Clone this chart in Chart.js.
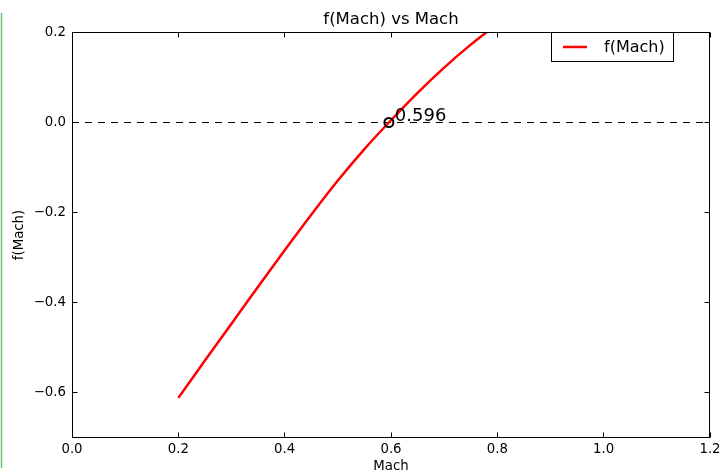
<!DOCTYPE html>
<html>
<head>
<meta charset="utf-8">
<script src="https://cdn.jsdelivr.net/npm/chart.js@4.4.1/dist/chart.umd.min.js"></script>
<style>
  html, body { margin: 0; padding: 0; background: #ffffff; }
  #wrap { width: 725px; height: 474px; position: relative; }
</style>
</head>
<body>
<div id="wrap"><canvas id="c" width="725" height="474"></canvas></div>
<script>
// Function samples f(Mach) over the Mach range
const mach  = [0.20, 0.25, 0.30, 0.35, 0.40, 0.45, 0.50, 0.55, 0.60, 0.65, 0.70, 0.75, 0.80];
const fMach = [-0.612, -0.529, -0.447, -0.365, -0.284, -0.205, -0.129, -0.059, 0.005, 0.066, 0.122, 0.173, 0.219];

// Root found by the solver
const rootMach = 0.596;
const rootF = 0.0;

// Axis ranges and tick labels
const xRange = [0.0, 1.2];
const yRange = [-0.7, 0.2];
const xTicks = [0.0, 0.2, 0.4, 0.6, 0.8, 1.0, 1.2];
const yTicks = [-0.6, -0.4, -0.2, 0.0, 0.2];

const FONT = "'DejaVu Sans', 'Liberation Sans', sans-serif";
const fmt = v => (v < 0 ? '\u2212' : '') + Math.abs(v).toFixed(1);

const curve = mach.map((m, i) => ({ x: m, y: fMach[i] }));

const decor = {
  id: 'decor',
  beforeDraw(chart) {
    const ctx = chart.ctx;
    ctx.save();
    ctx.fillStyle = '#ffffff';
    ctx.fillRect(0, 0, chart.width, chart.height);
    // thin green rule along the left edge
    ctx.strokeStyle = '#6cbf6c';
    ctx.lineWidth = 1.5;
    ctx.beginPath();
    ctx.moveTo(1.5, 13);
    ctx.lineTo(1.5, 468);
    ctx.stroke();
    ctx.restore();
  },
  afterDraw(chart) {
    const ctx = chart.ctx;
    const a = chart.chartArea;
    const xs = chart.scales.x, ys = chart.scales.y;
    const L = Math.floor(a.left) + 0.5, R = Math.floor(a.right) - 0.5;
    const T = Math.floor(a.top) + 0.5, B = Math.floor(a.bottom) + 0.5;
    ctx.save();

    // frame
    ctx.strokeStyle = '#000000';
    ctx.lineWidth = 1;
    ctx.strokeRect(L, T, R - L, B - T);

    // inward ticks on all four sides
    const tl = 5;
    ctx.beginPath();
    xTicks.forEach(v => {
      const px = Math.floor(xs.getPixelForValue(v)) + 0.5;
      ctx.moveTo(px, B); ctx.lineTo(px, B - tl);
      ctx.moveTo(px, T); ctx.lineTo(px, T + tl);
    });
    yTicks.forEach(v => {
      const py = Math.floor(ys.getPixelForValue(v)) + 0.5;
      ctx.moveTo(L, py); ctx.lineTo(L + tl, py);
      ctx.moveTo(R, py); ctx.lineTo(R - tl, py);
    });
    ctx.stroke();

    // title
    ctx.fillStyle = '#000000';
    ctx.font = '16.5px ' + FONT;
    ctx.textAlign = 'center';
    ctx.textBaseline = 'middle';
    ctx.fillText('f(Mach) vs Mach', (a.left + a.right) / 2, 20);

    // axis titles
    ctx.font = '13.3px ' + FONT;
    ctx.fillText('Mach', (a.left + a.right) / 2, 467);
    ctx.save();
    ctx.translate(20, (a.top + a.bottom) / 2);
    ctx.rotate(-Math.PI / 2);
    ctx.fillText('f(Mach)', 0, 0);
    ctx.restore();

    // root annotation
    const rx = xs.getPixelForValue(rootMach), ry = ys.getPixelForValue(rootF);
    ctx.font = '18px ' + FONT;
    ctx.textAlign = 'left';
    ctx.fillText(rootMach.toFixed(3), rx + 6, ry - 6);

    // legend
    const lx = 551.5, ly = 32.5, lw = 122, lh = 29;
    ctx.fillStyle = '#ffffff';
    ctx.fillRect(lx, ly, lw, lh);
    ctx.strokeStyle = '#000000';
    ctx.lineWidth = 1;
    ctx.strokeRect(lx, ly, lw, lh);
    const ds = chart.data.datasets[0];
    ctx.strokeStyle = ds.borderColor;
    ctx.lineWidth = 2.5;
    ctx.beginPath();
    ctx.moveTo(563, ly + lh / 2);
    ctx.lineTo(587, ly + lh / 2);
    ctx.stroke();
    ctx.fillStyle = '#000000';
    ctx.font = '16px ' + FONT;
    ctx.textBaseline = 'middle';
    ctx.fillText(ds.label, 604, ly + lh / 2 + 0.5);

    ctx.restore();
  }
};

new Chart(document.getElementById('c'), {
  type: 'scatter',
  data: {
    datasets: [
      {
        label: 'f(Mach)',
        data: curve,
        showLine: true,
        borderColor: '#ff0000',
        backgroundColor: '#ff0000',
        borderWidth: 2.5,
        pointRadius: 0,
        cubicInterpolationMode: 'monotone',
        clip: 0,
        order: 1
      },
      {
        label: 'zero',
        data: [{ x: xRange[0], y: 0 }, { x: xRange[1], y: 0 }],
        showLine: true,
        borderColor: '#000000',
        borderWidth: 1,
        borderDash: [7, 6],
        pointRadius: 0,
        clip: 0,
        order: 2
      },
      {
        label: 'root',
        data: [{ x: rootMach, y: rootF }],
        pointRadius: 4.5,
        pointBorderWidth: 2,
        pointBorderColor: '#000000',
        pointBackgroundColor: 'rgba(0,0,0,0)',
        clip: false,
        order: 0
      }
    ]
  },
  options: {
    responsive: false,
    animation: false,
    events: [],
    layout: { padding: { left: 0, right: 15, top: 32.5, bottom: 0 } },
    plugins: {
      legend: { display: false },
      title: { display: false },
      tooltip: { enabled: false }
    },
    scales: {
      x: {
        type: 'linear',
        min: xRange[0],
        max: xRange[1],
        afterBuildTicks: s => { s.ticks = xTicks.map(v => ({ value: v })); },
        afterFit: s => { s.height = 36.5; },
        grid: { display: false, drawTicks: false },
        border: { display: false },
        ticks: {
          color: '#000000',
          font: { family: FONT, size: 13.3 },
          padding: 4,
          maxRotation: 0,
          callback: v => fmt(v)
        }
      },
      y: {
        type: 'linear',
        min: yRange[0],
        max: yRange[1],
        afterBuildTicks: s => { s.ticks = yTicks.map(v => ({ value: v })); },
        afterFit: s => { s.width = 72; },
        grid: { display: false, drawTicks: false },
        border: { display: false },
        ticks: {
          color: '#000000',
          font: { family: FONT, size: 13.3 },
          padding: 6,
          callback: v => fmt(v)
        }
      }
    }
  },
  plugins: [decor]
});
</script>
</body>
</html>
